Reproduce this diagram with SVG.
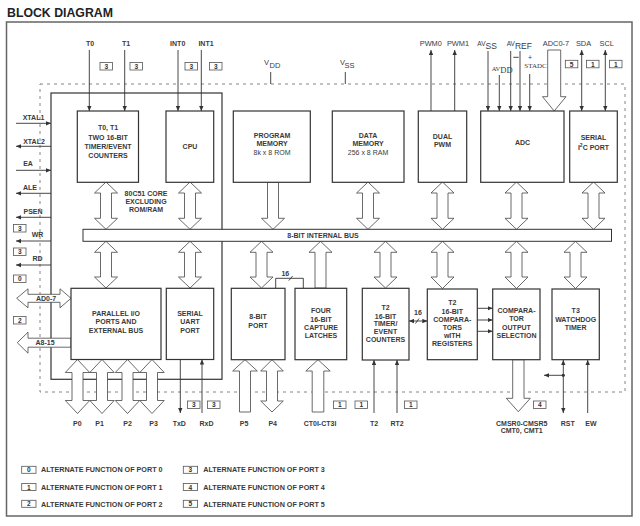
<svg xmlns="http://www.w3.org/2000/svg" width="640" height="526" viewBox="0 0 640 526">
<defs>
<style>
.t{font-family:"Liberation Sans",Arial,sans-serif;font-size:7px;font-weight:bold;fill:#3a3a3a;text-anchor:middle}
.r{font-weight:normal}
.s{font-family:"Liberation Serif","Times New Roman",serif;font-weight:normal}
.lg{font-size:7.2px;text-anchor:start}
.box{fill:#fff;stroke:#333;stroke-width:1.2}
.ln{fill:none;stroke:#333;stroke-width:0.9}
.ha{fill:#fff;stroke:#444;stroke-width:0.8}
.nb{fill:#fff;stroke:#555;stroke-width:0.8}
.nt{font-family:"Liberation Sans",Arial,sans-serif;font-size:6.6px;font-weight:bold;fill:#333;text-anchor:middle}
</style>
<marker id="a" viewBox="0 0 6 6" refX="6" refY="3" markerWidth="5" markerHeight="5" orient="auto-start-reverse" markerUnits="userSpaceOnUse"><path d="M0,0.4 L6,3 L0,5.6 z" fill="#333"/></marker>
</defs>
<rect width="640" height="526" fill="#fff"/>
<rect x="6.5" y="22" width="625.5" height="494" fill="none" stroke="#666" stroke-width="1.5"/>
<text x="7" y="17" style="font-family:'Liberation Sans',Arial,sans-serif;font-size:12.3px;font-weight:bold;fill:#222">BLOCK DIAGRAM</text>
<rect x="40" y="84" width="585" height="308" fill="none" stroke="#777" stroke-width="0.9" stroke-dasharray="3 4"/>
<rect x="51" y="93" width="171" height="286.3" fill="none" stroke="#333" stroke-width="1.2"/>

<g id="connectors">
<line class="ln" x1="89.3" y1="50" x2="89.3" y2="111" marker-end="url(#a)"/>
<line class="ln" x1="124.7" y1="50" x2="124.7" y2="111" marker-end="url(#a)"/>
<line class="ln" x1="178" y1="50" x2="178" y2="111" marker-end="url(#a)"/>
<line class="ln" x1="201.3" y1="50" x2="201.3" y2="111" marker-end="url(#a)"/>
<line class="ln" x1="270.7" y1="72" x2="270.7" y2="84"/>
<line class="ln" x1="345.3" y1="72" x2="345.3" y2="84"/>
<line class="ln" x1="431" y1="111" x2="431" y2="50" marker-end="url(#a)"/>
<line class="ln" x1="454.7" y1="111" x2="454.7" y2="50" marker-end="url(#a)"/>
<line class="ln" x1="488" y1="51" x2="488" y2="111" marker-end="url(#a)"/>
<line class="ln" x1="499.3" y1="75" x2="499.3" y2="111" marker-end="url(#a)"/>
<line class="ln" x1="510.7" y1="51" x2="510.7" y2="111" marker-end="url(#a)"/>
<line class="ln" x1="520" y1="51" x2="520" y2="111" marker-end="url(#a)"/>
<line class="ln" x1="529.7" y1="74" x2="529.7" y2="111" marker-end="url(#a)"/>
<line class="ln" x1="513.3" y1="57.3" x2="518.7" y2="57.3"/>
<line class="ln" x1="581.7" y1="50" x2="581.7" y2="111" marker-start="url(#a)" marker-end="url(#a)"/>
<line class="ln" x1="605.3" y1="50" x2="605.3" y2="111" marker-start="url(#a)" marker-end="url(#a)"/>
<path class="ha" d="M547.7,50 L560.7,50 L560.7,96.7 L566,96.7 L554.2,111 L542.5,96.7 L547.7,96.7 Z"/>
<line class="ln" x1="16" y1="123.3" x2="51" y2="123.3" marker-end="url(#a)"/>
<line class="ln" x1="51" y1="146.3" x2="16" y2="146.3" marker-end="url(#a)"/>
<line class="ln" x1="16" y1="170.3" x2="51" y2="170.3" marker-end="url(#a)"/>
<line class="ln" x1="51" y1="193.3" x2="16" y2="193.3" marker-end="url(#a)"/>
<line class="ln" x1="51" y1="217.3" x2="16" y2="217.3" marker-end="url(#a)"/>
<line class="ln" x1="51" y1="241" x2="16" y2="241" marker-end="url(#a)"/>
<line class="ln" x1="51" y1="265" x2="16" y2="265" marker-end="url(#a)"/>
<path class="ha" d="M16.7,298.3 L28,288.8 L28,294.3 L60,294.3 L60,288.8 L71,298.3 L60,307.8 L60,302.3 L28,302.3 L28,307.8 Z"/>
<path class="ha" d="M71,338.2 L28,338.2 L28,332.2 L17.3,342.7 L28,353.2 L28,347.2 L71,347.2 Z"/>
<path class="ha" d="M106,182 L117.5,193 L111.5,193 L111.5,218.3 L117.5,218.3 L106,229.3 L94.5,218.3 L100.5,218.3 L100.5,193 L94.5,193 Z"/>
<path class="ha" d="M190,182 L201.5,193 L195.5,193 L195.5,218.3 L201.5,218.3 L190,229.3 L178.5,218.3 L184.5,218.3 L184.5,193 L178.5,193 Z"/>
<path class="ha" d="M267.5,182 L278.5,182 L278.5,218.3 L284.5,218.3 L273,229.3 L261.5,218.3 L267.5,218.3 Z"/>
<path class="ha" d="M368,182 L379.5,193 L373.5,193 L373.5,218.3 L379.5,218.3 L368,229.3 L356.5,218.3 L362.5,218.3 L362.5,193 L356.5,193 Z"/>
<path class="ha" d="M442.5,182 L454,193 L448,193 L448,218.3 L454,218.3 L442.5,229.3 L431,218.3 L437,218.3 L437,193 L431,193 Z"/>
<path class="ha" d="M516.5,182 L528,193 L522,193 L522,218.3 L528,218.3 L516.5,229.3 L505,218.3 L511,218.3 L511,193 L505,193 Z"/>
<path class="ha" d="M593.5,182 L605,193 L599,193 L599,218.3 L605,218.3 L593.5,229.3 L582,218.3 L588,218.3 L588,193 L582,193 Z"/>
<path class="ha" d="M106,241.3 L117.5,252.3 L111.5,252.3 L111.5,277 L117.5,277 L106,288 L94.5,277 L100.5,277 L100.5,252.3 L94.5,252.3 Z"/>
<path class="ha" d="M190,241.3 L201.5,252.3 L195.5,252.3 L195.5,277 L201.5,277 L190,288 L178.5,277 L184.5,277 L184.5,252.3 L178.5,252.3 Z"/>
<path class="ha" d="M261.5,241.3 L273,252.3 L267,252.3 L267,277 L273,277 L261.5,288 L250,277 L256,277 L256,252.3 L250,252.3 Z"/>
<path class="ha" d="M320.5,241.3 L332,252.3 L326,252.3 L326,288 L315,288 L315,252.3 L309,252.3 Z"/>
<path class="ha" d="M385.5,241.3 L397,252.3 L391,252.3 L391,277 L397,277 L385.5,288 L374,277 L380,277 L380,252.3 L374,252.3 Z"/>
<path class="ha" d="M442.5,241.3 L454,252.3 L448,252.3 L448,277 L454,277 L442.5,288.5 L431,277 L437,277 L437,252.3 L431,252.3 Z"/>
<path class="ha" d="M516.5,241.3 L528,252.3 L522,252.3 L522,277 L528,277 L516.5,288.5 L505,277 L511,277 L511,252.3 L505,252.3 Z"/>
<path class="ha" d="M575.5,241.3 L587,252.3 L581,252.3 L581,277 L587,277 L575.5,288.5 L564,277 L570,277 L570,252.3 L564,252.3 Z"/>
<polyline class="ln" points="275.7,288.3 275.7,278.3 303.3,278.3 303.3,288.3"/>
<line class="ln" x1="288.8" y1="280.6" x2="292.6" y2="276"/>
<line class="ln" x1="409" y1="321" x2="427.3" y2="321" marker-start="url(#a)" marker-end="url(#a)"/>
<line class="ln" x1="415.5" y1="323.5" x2="419" y2="318.5"/>
<line class="ln" x1="477.3" y1="308.3" x2="492.7" y2="308.3" marker-end="url(#a)"/>
<line class="ln" x1="477.3" y1="320" x2="492.7" y2="320" marker-end="url(#a)"/>
<line class="ln" x1="477.3" y1="331.3" x2="492.7" y2="331.3" marker-end="url(#a)"/>
<path class="ha" d="M77.5,359.5 L89.7,372.5 L83,372.5 L83,400.5 L89.7,400.5 L77.5,413.5 L65.3,400.5 L72,400.5 L72,372.5 L65.3,372.5 Z"/>
<path class="ha" d="M102,359.5 L114.2,372.5 L107.5,372.5 L107.5,400.5 L114.2,400.5 L102,413.5 L89.8,400.5 L96.5,400.5 L96.5,372.5 L89.8,372.5 Z"/>
<path class="ha" d="M127.5,359.5 L139.7,372.5 L133,372.5 L133,400.5 L139.7,400.5 L127.5,413.5 L115.3,400.5 L122,400.5 L122,372.5 L115.3,372.5 Z"/>
<path class="ha" d="M152,359.5 L164.2,372.5 L157.5,372.5 L157.5,400.5 L164.2,400.5 L152,413.5 L139.8,400.5 L146.5,400.5 L146.5,372.5 L139.8,372.5 Z"/>
<line class="ln" x1="180.3" y1="359.5" x2="180.3" y2="413" marker-end="url(#a)"/>
<line class="ln" x1="202" y1="413" x2="202" y2="359.5" marker-end="url(#a)"/>
<path class="ha" d="M245,359.7 L257.3,371 L250.5,371 L250.5,412 L239.5,412 L239.5,371 L232.7,371 Z"/>
<path class="ha" d="M272,359.7 L283.3,371 L277.5,371 L277.5,401 L283.3,401 L272,412 L260.7,401 L266.5,401 L266.5,371 L260.7,371 Z"/>
<path class="ha" d="M318,359.7 L330.2,371 L323.8,371 L323.8,412 L312.2,412 L312.2,371 L305.8,371 Z"/>
<line class="ln" x1="374" y1="413" x2="374" y2="360" marker-end="url(#a)"/>
<line class="ln" x1="397" y1="413" x2="397" y2="360" marker-end="url(#a)"/>
<path class="ha" d="M512.7,359.7 L524,359.7 L524,398.3 L530.3,398.3 L518.3,411.7 L506.3,398.3 L512.7,398.3 Z"/>
<line class="ln" x1="563.3" y1="360" x2="563.3" y2="413" marker-start="url(#a)" marker-end="url(#a)"/>
<line class="ln" x1="563.3" y1="375.3" x2="544" y2="375.3" marker-end="url(#a)"/>
<circle cx="563.3" cy="375.3" r="1.6" fill="#333"/>
<line class="ln" x1="587.7" y1="413" x2="587.7" y2="360" marker-end="url(#a)"/>
</g>

<g id="bus"><rect x="83" y="229.3" width="528.5" height="12" fill="#fff" stroke="#333" stroke-width="1"/><text class="t" x="323" y="238.3">8-BIT INTERNAL BUS</text></g>

<g id="t01"><rect class="box" x="77.3" y="111" width="61.2" height="71.3"/><text class="t" x="108" y="130.2">T0, T1</text><text class="t" x="108" y="139.8">TWO 16-BIT</text><text class="t" x="108" y="149.2">TIMER/EVENT</text><text class="t" x="108" y="157.8">COUNTERS</text></g>
<g id="cpu"><rect class="box" x="166" y="111" width="47.7" height="71.3"/><text class="t" x="190" y="148.5">CPU</text></g>
<g id="pmem"><rect class="box" x="233.3" y="111" width="77" height="71.3"/><text class="t" x="272" y="138.2">PROGRAM</text><text class="t" x="272" y="146.3">MEMORY</text><text class="t r" x="272" y="154.5">8k x 8 ROM</text></g>
<g id="dmem"><rect class="box" x="332.3" y="111" width="71.7" height="71.3"/><text class="t" x="368" y="138.2">DATA</text><text class="t" x="368" y="146.3">MEMORY</text><text class="t r" x="368" y="154.5">256 x 8 RAM</text></g>
<g id="pwm"><rect class="box" x="418.3" y="111" width="48.4" height="71.3"/><text class="t" x="442.5" y="139.2">DUAL</text><text class="t" x="442.5" y="147.2">PWM</text></g>
<g id="adc"><rect class="box" x="480.7" y="111" width="83.3" height="71.3"/><text class="t" x="522.5" y="145.2">ADC</text></g>
<g id="i2c"><rect class="box" x="569.7" y="111" width="47.6" height="71.3"/><text class="t" x="593.5" y="139.8">SERIAL</text><text class="t" x="593.5" y="149.8">I<tspan dy="-2.5" font-size="5">2</tspan><tspan dy="2.5">C PORT</tspan></text></g>
<g id="core-label"><text class="t" x="146" y="196.3">80C51 CORE</text><text class="t" x="146" y="204">EXCLUDING</text><text class="t" x="146" y="211.6">ROM/RAM</text></g>
<g id="pio"><rect class="box" x="71" y="288.3" width="90" height="71.2"/><text class="t" x="116" y="315.8">PARALLEL I/O</text><text class="t" x="116" y="323.8">PORTS AND</text><text class="t" x="116" y="332.5">EXTERNAL BUS</text></g>
<g id="uart"><rect class="box" x="166.3" y="288.3" width="47.4" height="71.2"/><text class="t" x="190" y="315.8">SERIAL</text><text class="t" x="190" y="323.8">UART</text><text class="t" x="190" y="332.5">PORT</text></g>
<g id="port8"><rect class="box" x="231.3" y="288.3" width="53.7" height="71.4"/><text class="t" x="258" y="319.2">8-BIT</text><text class="t" x="258" y="327.8">PORT</text></g>
<g id="capture"><rect class="box" x="295" y="288.3" width="51.7" height="71.4"/><text class="t" x="321" y="313.2">FOUR</text><text class="t" x="321" y="321.5">16-BIT</text><text class="t" x="321" y="329.5">CAPTURE</text><text class="t" x="321" y="337.8">LATCHES</text></g>
<g id="t2"><rect class="box" x="362.3" y="288.3" width="46.7" height="71.7"/><text class="t" x="385.5" y="310.2">T2</text><text class="t" x="385.5" y="318.5">16-BIT</text><text class="t" x="385.5" y="325.8">TIMER/</text><text class="t" x="385.5" y="333.5">EVENT</text><text class="t" x="385.5" y="341.5">COUNTERS</text></g>
<g id="t2cmp"><rect class="box" x="427.3" y="289" width="50" height="70.7"/><text class="t" x="452.3" y="305.2">T2</text><text class="t" x="452.3" y="313.5">16-BIT</text><text class="t" x="452.3" y="321.8">COMPARA-</text><text class="t" x="452.3" y="329.8">TORS</text><text class="t" x="452.3" y="337.8">wITH</text><text class="t" x="452.3" y="345.8">REGISTERS</text></g>
<g id="cmpout"><rect class="box" x="492.7" y="289" width="47.3" height="70.7"/><text class="t" x="516.5" y="313.2">COMPARA-</text><text class="t" x="516.5" y="321.2">TOR</text><text class="t" x="516.5" y="329.5">OUTPUT</text><text class="t" x="516.5" y="337.8">SELECTION</text></g>
<g id="t3"><rect class="box" x="552" y="289" width="47.3" height="70.7"/><text class="t" x="575.7" y="313.2">T3</text><text class="t" x="575.7" y="321.5">WATCHDOG</text><text class="t" x="575.7" y="329.5">TIMER</text></g>

<g id="labels">
<text class="t" x="90" y="45.7">T0</text>
<text class="t" x="126" y="45.7">T1</text>
<text class="t" x="177.7" y="45.7">INT0</text>
<text class="t" x="206" y="45.7">INT1</text>
<text class="t r" x="264" y="65" style="font-size:7.5px;text-anchor:start">V</text>
<text class="t r" x="269.5" y="67.8" style="font-size:7.5px;text-anchor:start">DD</text>
<text class="t r" x="340" y="65" style="font-size:7.5px;text-anchor:start">V</text>
<text class="t r" x="344.5" y="67.8" style="font-size:7.5px;text-anchor:start">SS</text>
<text class="t r" x="430.8" y="45.7" style="font-size:7.4px">PWM0</text>
<text class="t r" x="458" y="45.7" style="font-size:7.4px">PWM1</text>
<text class="t r" x="477.3" y="46" style="font-size:6.5px;text-anchor:start">AV<tspan dy="3" style="font-size:8.5px">SS</tspan></text>
<text class="t r" x="506.7" y="46" style="font-size:6.5px;text-anchor:start">AV<tspan dy="3" style="font-size:8.5px">REF</tspan></text>
<text class="t s" x="491.7" y="71" style="font-size:6.5px;text-anchor:start">AV<tspan dy="2" style="font-size:8.5px">DD</tspan></text>
<text class="t r" x="530" y="60" style="font-size:7px">+</text>
<text class="t s" x="535.5" y="68" style="font-size:7px">STADC</text>
<text class="t r" x="556" y="45.7" style="font-size:7.4px">ADC0-7</text>
<text class="t r" x="583.5" y="45.7" style="font-size:7.4px">SDA</text>
<text class="t r" x="606.7" y="45.7" style="font-size:7.4px">SCL</text>
<text class="t" x="33.5" y="120">XTAL1</text>
<text class="t" x="34" y="143.8">XTAL2</text>
<text class="t" x="28" y="166">EA</text>
<text class="t" x="30" y="190.2">ALE</text>
<text class="t" x="33" y="214.2">PSEN</text>
<text class="t" x="37.5" y="236.5">WR</text>
<text class="t" x="37.5" y="261">RD</text>
<text class="t" x="46" y="301">AD0-7</text>
<text class="t" x="45" y="345.3">A8-15</text>
<text class="t" x="77.3" y="425.5">P0</text>
<text class="t" x="99.5" y="425.5">P1</text>
<text class="t" x="127.5" y="425.5">P2</text>
<text class="t" x="153.5" y="425.5">P3</text>
<text class="t" x="179.3" y="425.5">TxD</text>
<text class="t" x="206.5" y="425.5">RxD</text>
<text class="t" x="244" y="425.5">P5</text>
<text class="t" x="272.7" y="425.5">P4</text>
<text class="t" x="320" y="425.5">CT0I-CT3I</text>
<text class="t" x="374" y="425.5">T2</text>
<text class="t" x="397" y="425.5">RT2</text>
<text class="t" x="521.7" y="426">CMSR0-CMSR5</text>
<text class="t" x="521.7" y="433">CMT0, CMT1</text>
<text class="t" x="567.7" y="426">RST</text>
<text class="t" x="591" y="426">EW</text>
<text class="t" x="418" y="315">16</text>
<text class="t" x="285.3" y="276">16</text>
</g>

<g id="numboxes">
<rect class="nb" x="100" y="62.5" width="12.5" height="7.5"/><text class="nt" x="106.25" y="68.8">3</text>
<rect class="nb" x="130" y="62.5" width="12.5" height="7.5"/><text class="nt" x="136.25" y="68.8">3</text>
<rect class="nb" x="185" y="62.5" width="12.5" height="7.5"/><text class="nt" x="191.25" y="68.8">3</text>
<rect class="nb" x="209.5" y="62.5" width="12.5" height="7.5"/><text class="nt" x="215.75" y="68.8">3</text>
<rect class="nb" x="565.3" y="60.3" width="12.5" height="7.5"/><text class="nt" x="571.55" y="66.6">5</text>
<rect class="nb" x="586.5" y="60.3" width="12.5" height="7.5"/><text class="nt" x="592.75" y="66.6">1</text>
<rect class="nb" x="609.5" y="60.3" width="12.5" height="7.5"/><text class="nt" x="615.75" y="66.6">1</text>
<rect class="nb" x="13.5" y="224.5" width="12.5" height="7.5"/><text class="nt" x="19.75" y="230.8">3</text>
<rect class="nb" x="13.5" y="248" width="12.5" height="7.5"/><text class="nt" x="19.75" y="254.3">3</text>
<rect class="nb" x="13.5" y="275" width="12.5" height="7.5"/><text class="nt" x="19.75" y="281.3">0</text>
<rect class="nb" x="13.5" y="316.5" width="12.5" height="7.5"/><text class="nt" x="19.75" y="322.8">2</text>
<rect class="nb" x="187.5" y="401" width="12.5" height="7.5"/><text class="nt" x="193.75" y="407.3">3</text>
<rect class="nb" x="207.5" y="401" width="12.5" height="7.5"/><text class="nt" x="213.75" y="407.3">3</text>
<rect class="nb" x="333.5" y="401" width="12.5" height="7.5"/><text class="nt" x="339.75" y="407.3">1</text>
<rect class="nb" x="355" y="401" width="12.5" height="7.5"/><text class="nt" x="361.25" y="407.3">1</text>
<rect class="nb" x="404.5" y="401" width="12.5" height="7.5"/><text class="nt" x="410.75" y="407.3">1</text>
<rect class="nb" x="533.5" y="401" width="12.5" height="7.5"/><text class="nt" x="539.75" y="407.3">4</text>
</g>

<g id="legend">
<rect class="nb" x="21.7" y="466.3" width="14.3" height="7"/><text class="nt" x="28.85" y="472.3">0</text>
<rect class="nb" x="21.7" y="483.5" width="14.3" height="7"/><text class="nt" x="28.85" y="489.5">1</text>
<rect class="nb" x="21.7" y="500.3" width="14.3" height="7"/><text class="nt" x="28.85" y="506.3">2</text>
<rect class="nb" x="183.3" y="466.3" width="14.3" height="7"/><text class="nt" x="190.45" y="472.3">3</text>
<rect class="nb" x="183.3" y="483.5" width="14.3" height="7"/><text class="nt" x="190.45" y="489.5">4</text>
<rect class="nb" x="183.3" y="500.3" width="14.3" height="7"/><text class="nt" x="190.45" y="506.3">5</text>
<text class="t lg" x="41" y="472.3">ALTERNATE FUNCTION OF PORT 0</text>
<text class="t lg" x="41" y="489.6">ALTERNATE FUNCTION OF PORT 1</text>
<text class="t lg" x="41" y="506.6">ALTERNATE FUNCTION OF PORT 2</text>
<text class="t lg" x="203.3" y="472.3">ALTERNATE FUNCTION OF PORT 3</text>
<text class="t lg" x="203.3" y="489.6">ALTERNATE FUNCTION OF PORT 4</text>
<text class="t lg" x="203.3" y="506.6">ALTERNATE FUNCTION OF PORT 5</text>
</g>
</svg>
